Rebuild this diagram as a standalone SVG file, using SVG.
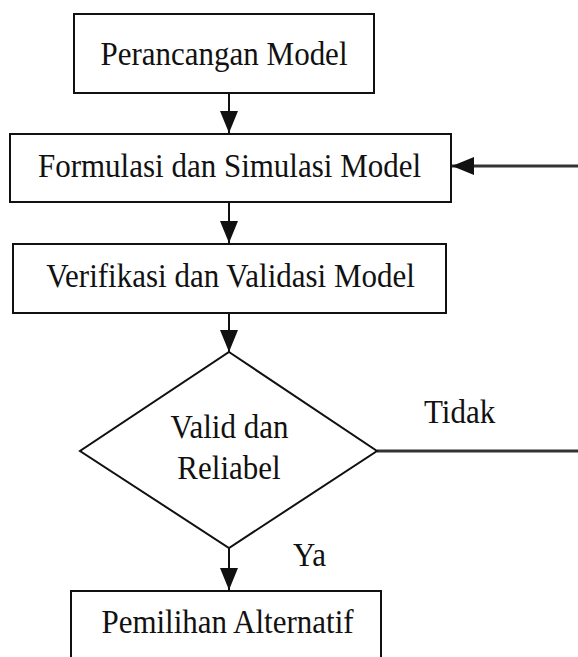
<svg xmlns="http://www.w3.org/2000/svg" width="578" height="657" viewBox="0 0 578 657">
<style>
.box{fill:#fff;stroke:#111;stroke-width:2}
.t{font-family:"Liberation Serif","Times New Roman",serif;font-size:31px;fill:#111}
.c{text-anchor:middle}
.ln{stroke:#111;stroke-width:2;fill:none}
.fb{stroke:#333;stroke-width:3;fill:none}
</style>
<defs>
<marker id="ah" markerUnits="userSpaceOnUse" markerWidth="22" markerHeight="18" refX="22" refY="9" orient="auto" viewBox="0 0 22 18">
<path d="M0,0 L22,9 L0,18 Z" fill="#111"/>
</marker>
</defs>
<rect width="578" height="657" fill="#fff"/>
<g id="connectors">
<line class="ln" x1="229" y1="93" x2="229" y2="133" marker-end="url(#ah)"/>
<line class="ln" x1="229" y1="203" x2="229" y2="243" marker-end="url(#ah)"/>
<line class="ln" x1="229" y1="313" x2="229" y2="352" marker-end="url(#ah)"/>
<line class="ln" x1="229" y1="548" x2="229" y2="590" marker-end="url(#ah)"/>
<line class="fb" x1="377" y1="451" x2="578" y2="451"/>
<line class="fb" x1="578" y1="166" x2="452" y2="166" marker-end="url(#ah)"/>
<text class="t" transform="translate(424 422.7) scale(1 1.1)">Tidak</text>
<text class="t" transform="translate(293 566) scale(1 1.1)">Ya</text>
</g>
<g id="n1">
<rect class="box" x="74" y="14" width="300" height="79"/>
<text class="t c" transform="translate(224 65) scale(1 1.1)">Perancangan Model</text>
</g>
<g id="n2">
<rect class="box" x="10" y="134" width="441" height="68"/>
<text class="t c" transform="translate(229.5 176.7) scale(1 1.1)">Formulasi dan Simulasi Model</text>
</g>
<g id="n3">
<rect class="box" x="13" y="244" width="433" height="69"/>
<text class="t c" transform="translate(230.5 286.7) scale(1 1.1)">Verifikasi dan Validasi Model</text>
</g>
<g id="n4">
<polygon class="box" points="229,352 377,451 229,548 80,451"/>
<text class="t c" transform="translate(229.5 438) scale(1 1.1)">Valid dan</text>
<text class="t c" transform="translate(229 479) scale(1 1.1)">Reliabel</text>
</g>
<g id="n5">
<rect class="box" x="71" y="591" width="310" height="80"/>
<text class="t c" transform="translate(227.5 633) scale(1 1.1)">Pemilihan Alternatif</text>
</g>
</svg>
